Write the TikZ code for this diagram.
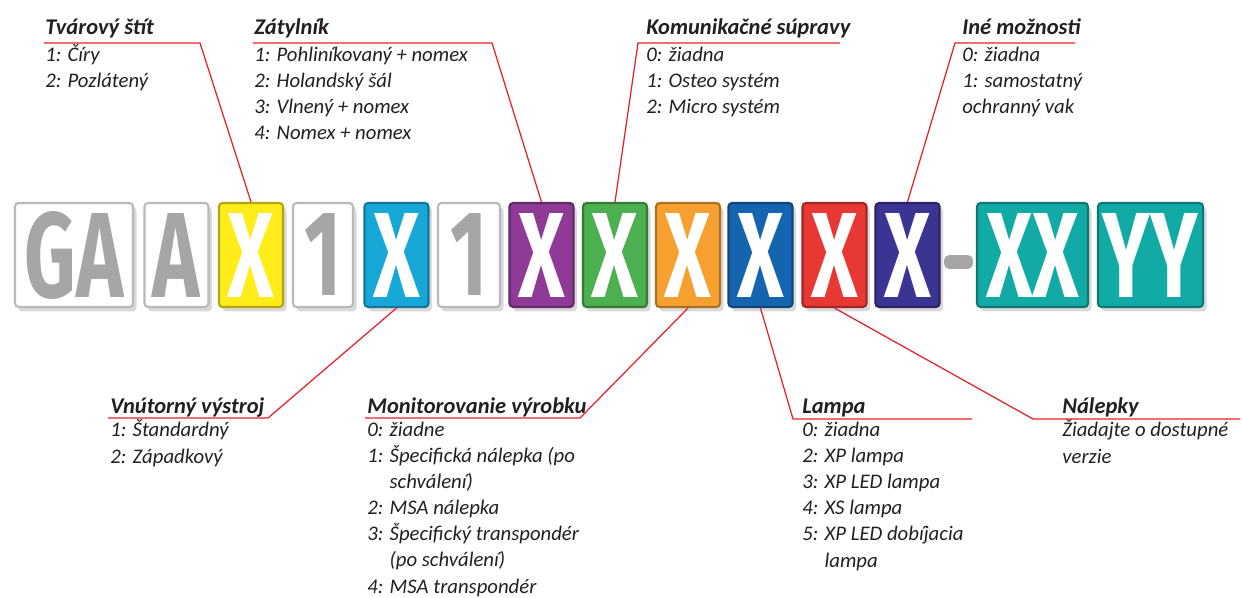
\documentclass[tikz,border=0pt]{standalone}
\usepackage{fontspec}
\usepackage{graphicx}
\setmainfont{Carlito}
\newfontfamily\tilefont{Fira Sans}
\usetikzlibrary{shadows}

\definecolor{tyellow}{RGB}{255,236,25}
\definecolor{tcyan}{RGB}{24,168,216}
\definecolor{tpurple}{RGB}{142,58,150}
\definecolor{tgreen}{RGB}{76,175,80}
\definecolor{torange}{RGB}{246,160,48}
\definecolor{tblue}{RGB}{20,100,176}
\definecolor{tred}{RGB}{232,56,52}
\definecolor{tnavy}{RGB}{60,52,146}
\definecolor{tteal}{RGB}{18,170,165}
\definecolor{tgrey}{RGB}{168,165,165}
\definecolor{leadred}{RGB}{230,30,40}
\definecolor{ink}{RGB}{35,31,32}

\newcommand{\headtype}{\bfseries\itshape\fontsize{12.8}{15}\selectfont}
\newcommand{\opttype}{\itshape\fontsize{11.8}{14.8}\selectfont}
\newcommand{\tileletter}[1]{\scalebox{0.66}[1]{\tilefont\bfseries\fontsize{69}{69}\selectfont #1}}

\begin{document}
\begin{tikzpicture}[x=0.02cm, y=-0.02cm,
    tile/.style={fill=#1, draw=#1!70!black, line width=1.2pt, rounded corners=2pt,
        minimum width=1.28cm, minimum height=2.08cm, inner sep=0pt, text=white,
        drop shadow={shadow xshift=2pt, shadow yshift=-2.5pt, opacity=.3}},
    plain tile/.style={tile=white, draw=gray!55, text=tgrey},
    head/.style={anchor=base west, inner sep=0pt, text=ink, font=\headtype},
    opts/.style={anchor=base west, inner sep=0pt, text=ink, align=left, font=\opttype},
    lead/.style={draw=leadred, line width=0.7pt}]
\useasboundingbox (0,0) rectangle (1242,598);

% code tiles
\node[plain tile, minimum width=2.36cm] (ga) at (74,255) {\tileletter{GA}};
\node[plain tile] (a) at (176.5,255) {\tileletter{A}};
\node[plain tile, minimum width=1.2cm] (one) at (323,255) {\tileletter{1}};
\node[plain tile, minimum width=1.24cm] (onebis) at (469,255) {\tileletter{1}};
\foreach \name/\x/\col in {yel/251/tyellow, cya/396.5/tcyan, pur/541.5/tpurple,
    gre/615/tgreen, ora/688/torange, blu/760.5/tblue, red/834.5/tred, nav/907.5/tnavy}
{
    \node[tile=\col] (\name) at (\x,255) {\tileletter{X}};
}
\node[fill=tgrey, rounded corners=3pt, minimum width=0.58cm, minimum height=0.28cm, inner sep=0pt] (dash) at (958.5,262) {};
\node[tile=tteal, minimum width=2.22cm] (xx) at (1032.5,255) {\tileletter{XX}};
\node[tile=tteal, minimum width=2.1cm] (yy) at (1150.5,255) {\tileletter{YY}};

% labels above (option lists placed by their last baseline)
\node[head] (face) at (45,35) {Tvárový štít};
\node[opts] (face-opt) at (45,88) {1: Číry\\2: Pozlátený};
\node[head] (back) at (254,35) {Zátylník};
\node[opts] (back-opt) at (254,140) {1: Pohliníkovaný + nomex\\2: Holandský šál\\3: Vlnený + nomex\\4: Nomex + nomex};
\node[head] (comm) at (646,35) {Komunikačné súpravy};
\node[opts] (comm-opt) at (646,114) {0: žiadna\\1: Osteo systém\\2: Micro systém};
\node[head] (other) at (962,35) {Iné možnosti};
\node[opts] (other-opt) at (962,114) {0: žiadna\\1: samostatný\\ochranný vak};

% labels below
\node[head] (inner) at (110,413) {Vnútorný výstroj};
\node[opts] (inner-opt) at (110,463) {1: Štandardný\\2: Západkový};
\node[head] (monit) at (367,413) {Monitorovanie výrobku};
\node[opts] (monit-opt) at (367,593) {0: žiadne\\1: Špecifická nálepka (po\\\phantom{1: }schválení)\\2: MSA nálepka\\3: Špecifický transpondér\\\phantom{3: }(po schválení)\\4: MSA transpondér};
\node[head] (lamp) at (802,413) {Lampa};
\node[opts] (lamp-opt) at (802,567) {0: žiadna\\2: XP lampa\\3: XP LED lampa\\4: XS lampa\\5: XP LED dobíjacia\\\phantom{5: }lampa};
\node[head] (stick) at (1062,413) {Nálepky};
\node[opts] (stick-opt) at (1062,463) {Žiadajte o dostupné\\verzie};

% leader lines
\coordinate (face-a) at (44,43);   \coordinate (face-b) at (200,43);
\coordinate (back-a) at (253,43);  \coordinate (back-b) at (492,43);
\coordinate (comm-a) at (840,43);  \coordinate (comm-b) at (638,43);
\coordinate (other-a) at (1075,43); \coordinate (other-b) at (955,43);
\coordinate (inner-a) at (108,418); \coordinate (inner-b) at (268,418);
\coordinate (monit-a) at (365,418); \coordinate (monit-b) at (580,418);
\coordinate (lamp-a) at (972,419);  \coordinate (lamp-b) at (793,419);
\coordinate (stick-a) at (1240,419); \coordinate (stick-b) at (1033,419);
\draw[lead] (face-a) -- (face-b) -- (yel.north);
\draw[lead] (back-a) -- (back-b) -- (pur.north);
\draw[lead] (comm-a) -- (comm-b) -- (gre.north);
\draw[lead] (other-a) -- (other-b) -- (nav.north);
\draw[lead] (inner-a) -- (inner-b) -- (cya.south);
\draw[lead] (monit-a) -- (monit-b) -- (ora.south);
\draw[lead] (lamp-a) -- (lamp-b) -- (blu.south);
\draw[lead] (stick-a) -- (stick-b) -- (red.south);
\end{tikzpicture}
\end{document}
